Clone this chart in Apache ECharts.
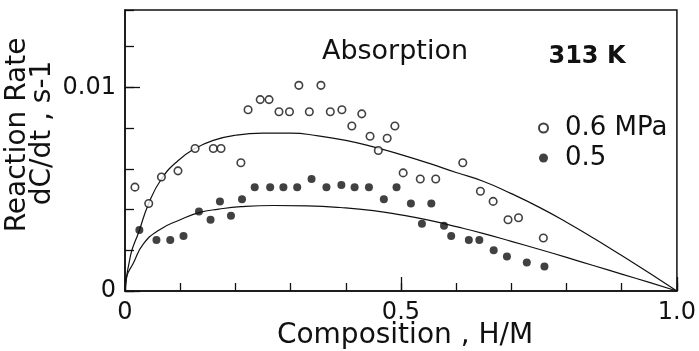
<!DOCTYPE html>
<html><head><meta charset="utf-8">
<script src="https://cdn.jsdelivr.net/npm/echarts@6/dist/echarts.min.js"></script>
<style>html,body{margin:0;padding:0;background:#fff}#c{width:699px;height:351px}</style>
</head><body><div id="c"></div>
<script>
// 0.6 MPa (open circles)
const openX = [0.018,0.043,0.066,0.096,0.127,0.160,0.174,0.210,0.223,0.245,0.261,0.279,0.298,0.315,0.334,0.355,0.372,0.393,0.411,0.429,0.444,0.459,0.475,0.489,0.504,0.535,0.563,0.612,0.644,0.667,0.694,0.713,0.758];
const openY = [0.0051,0.0043,0.0056,0.0059,0.0070,0.0070,0.0070,0.0063,0.0089,0.0094,0.0094,0.0088,0.0088,0.0101,0.0088,0.0101,0.0088,0.0089,0.0081,0.0087,0.0076,0.0069,0.0075,0.0081,0.0058,0.0055,0.0055,0.0063,0.0049,0.0044,0.0035,0.0036,0.0026];
// 0.5 MPa (filled circles)
const fillX = [0.026,0.057,0.082,0.106,0.134,0.155,0.172,0.192,0.212,0.235,0.263,0.287,0.312,0.338,0.365,0.392,0.416,0.442,0.469,0.492,0.518,0.538,0.555,0.578,0.591,0.623,0.642,0.668,0.692,0.728,0.760];
const fillY = [0.0030,0.0025,0.0025,0.0027,0.0039,0.0035,0.0044,0.0037,0.0045,0.0051,0.0051,0.0051,0.0051,0.0055,0.0051,0.0052,0.0051,0.0051,0.0045,0.0051,0.0043,0.0033,0.0043,0.0032,0.0027,0.0025,0.0025,0.0020,0.0017,0.0014,0.0012];
// fitted curves
const upperX = [0,0.01,0.025,0.043,0.066,0.096,0.127,0.16,0.2,0.25,0.3,0.35,0.4,0.45,0.5,0.55,0.6,0.65,0.7,0.75,0.8,0.85,0.9,0.95,1.0];
const upperY = [0,0.00175,0.0029,0.0043,0.0055,0.0064,0.0070,0.0074,0.00765,0.00775,0.00775,0.00762,0.0074,0.00708,0.0067,0.00628,0.00582,0.00538,0.00478,0.00412,0.00338,0.00258,0.00174,0.00088,0];
const lowerX = [0,0.003,0.015,0.033,0.062,0.1,0.134,0.17,0.21,0.27,0.33,0.39,0.45,0.5,0.55,0.6,0.65,0.7,0.75,0.8,0.85,0.9,0.95,1.0];
const lowerY = [0,0.0007,0.00136,0.0023,0.0030,0.0035,0.00385,0.00402,0.00414,0.0042,0.00418,0.0041,0.00395,0.00374,0.00348,0.00316,0.00282,0.00244,0.00205,0.00165,0.00124,0.00083,0.00042,0];
const xLabels = {0:'0', 0.5:'0.5', 1:'1.0'};
const yLabels = {0:'0', 0.01:'0.01'};

const zip = (a,b) => a.map((v,i)=>[v,b[i]]);
const F = 'DejaVu Sans';
const chart = echarts.init(document.getElementById('c'), null, {renderer:'canvas'});
const lineCol = '#111';
chart.setOption({
  animation:false,
  backgroundColor:'#fff',
  grid:{left:125, right:13, top:10, bottom:60, show:true, borderColor:lineCol, borderWidth:1.5, backgroundColor:'transparent'},
  xAxis:[
    {type:'value', min:0, max:1, interval:0.1, position:'bottom',
     axisLine:{lineStyle:{color:lineCol, width:1.5}}, axisTick:{inside:true, length:8, lineStyle:{color:lineCol,width:1.3}},
     axisLabel:{show:false}, splitLine:{show:false}},
    {type:'value', min:0, max:1, interval:0.5, position:'bottom', offset:0,
     axisLine:{show:false}, axisTick:{inside:true, length:14, lineStyle:{color:lineCol,width:1.3}},
     axisLabel:{margin:10, color:'#111', fontFamily:F, fontSize:24, formatter:v=>{for(const k in xLabels){if(Math.abs(v-k)<1e-9)return xLabels[k];}return '';}},
     splitLine:{show:false}}
  ],
  yAxis:[
    {type:'value', min:0, max:0.0138, interval:0.002, position:'left',
     axisLine:{lineStyle:{color:lineCol, width:1.5}}, axisTick:{inside:true, length:9, lineStyle:{color:lineCol,width:1.3}},
     axisLabel:{show:false}, splitLine:{show:false}},
    {type:'value', min:0, max:0.0138, interval:0.01, position:'left', offset:0,
     axisLine:{show:false}, axisTick:{inside:true, length:15, lineStyle:{color:lineCol,width:1.3}},
     axisLabel:{margin:9, color:'#111', fontFamily:F, fontSize:24, showMaxLabel:false, formatter:v=>{for(const k in yLabels){if(Math.abs(v-k)<1e-9)return yLabels[k];}return '';}},
     splitLine:{show:false}}
  ],
  legend:{orient:'vertical', left:533, top:110, itemGap:4, itemWidth:9, itemHeight:9,
    data:['0.6 MPa','0.5'],
    textStyle:{fontFamily:F, fontSize:26, color:'#111', padding:[0,0,0,12]}},
  graphic:[
    {type:'text', x:395, y:52, style:{text:'Absorption', font:'27px "DejaVu Sans"', fill:'#111', align:'center', verticalAlign:'middle'}},
    {type:'text', x:587, y:57, style:{text:'313 K', font:'bold 24px "DejaVu Sans"', fill:'#111', align:'center', verticalAlign:'middle'}},
    {type:'text', x:405, y:336, style:{text:'Composition , H/M', font:'28px "DejaVu Sans"', fill:'#111', align:'center', verticalAlign:'middle'}},
    {type:'text', x:18, y:135, rotation:Math.PI/2, style:{text:'Reaction Rate', font:'28px "DejaVu Sans"', fill:'#111', align:'center', verticalAlign:'middle'}},
    {type:'text', x:43, y:133, rotation:Math.PI/2, style:{text:'dC/dt , s-1', font:'28px "DejaVu Sans"', fill:'#111', align:'center', verticalAlign:'middle'}}
  ],
  series:[
    {name:'0.6 MPa', type:'scatter', xAxisIndex:0, yAxisIndex:0, data:zip(openX,openY), symbol:'circle', symbolSize:7.5,
     itemStyle:{color:'#fff', borderColor:'#111', borderWidth:1.6}, z:5},
    {name:'0.5', type:'scatter', xAxisIndex:0, yAxisIndex:0, data:zip(fillX,fillY), symbol:'circle', symbolSize:8,
     itemStyle:{color:'#111'}, z:5},
    {name:'fit06', type:'line', xAxisIndex:0, yAxisIndex:0, data:zip(upperX,upperY), showSymbol:false, smooth:0.5,
     lineStyle:{color:lineCol, width:1.2}, z:3},
    {name:'fit05', type:'line', xAxisIndex:0, yAxisIndex:0, data:zip(lowerX,lowerY), showSymbol:false, smooth:0.5,
     lineStyle:{color:lineCol, width:1.2}, z:3}
  ]
});
</script></body></html>
